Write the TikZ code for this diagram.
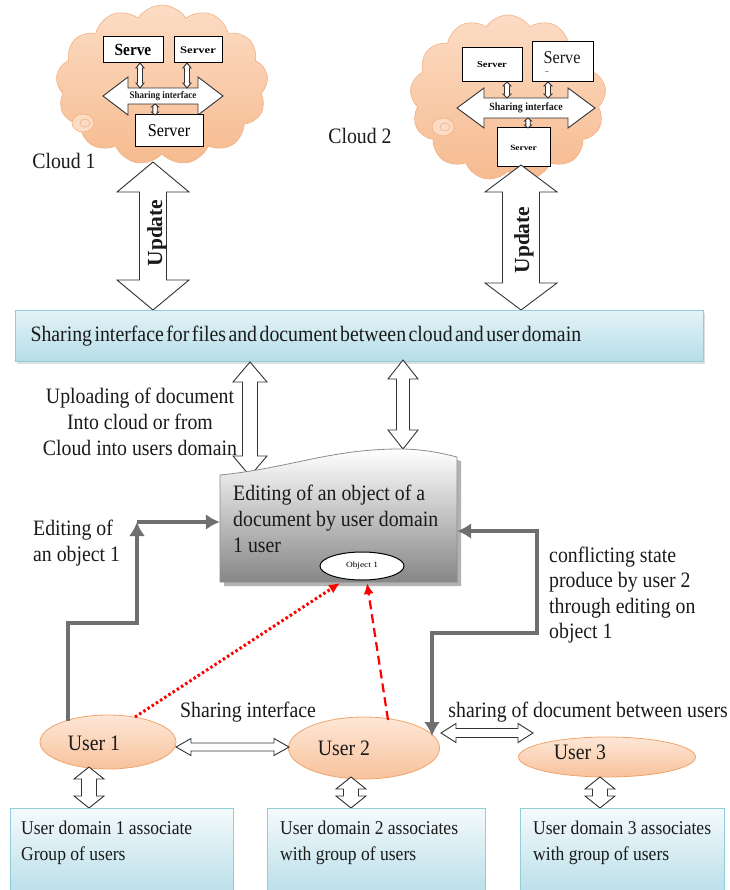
\documentclass[tikz,border=0pt]{standalone}
\usepackage{fontspec}
\setmainfont{Liberation Serif}[FakeStretch=0.9]
\newfontfamily\plainserif{Liberation Serif}
\usetikzlibrary{shapes.symbols,shapes.geometric,arrows.meta,shadows}
\definecolor{cloudtop}{HTML}{FCDCC4}
\definecolor{cloudbot}{HTML}{F6BB90}
\definecolor{cloudedge}{HTML}{F2B083}
\definecolor{usertop}{HTML}{FDE7D6}
\definecolor{userbot}{HTML}{F8C29C}
\definecolor{useredge}{HTML}{F0A46C}
\definecolor{bartop}{HTML}{E3F3F7}
\definecolor{barbot}{HTML}{B6DDE8}
\definecolor{baredge}{HTML}{92CDDC}
\definecolor{boxtop}{HTML}{F4FAFC}
\definecolor{arrgray}{HTML}{6F6F6F}
\definecolor{docgray}{HTML}{868686}
\definecolor{inkc}{HTML}{1A1A1A}
% vertical double block arrow: x, ytop, ybottom, head half width, shaft half width, head length
\newcommand{\vdblarrow}[6]{\draw[blockarr] (#1,#2) -- (#1+#4,#2+#6) -- (#1+#5,#2+#6) -- (#1+#5,#3-#6) -- (#1+#4,#3-#6) -- (#1,#3) -- (#1-#4,#3-#6) -- (#1-#5,#3-#6) -- (#1-#5,#2+#6) -- (#1-#4,#2+#6) -- cycle;}
% horizontal double block arrow: y, xleft, xright, head half height, shaft half height, head length
\newcommand{\hdblarrow}[6]{\draw[blockarr] (#2,#1) -- (#2+#6,#1-#4) -- (#2+#6,#1-#5) -- (#3-#6,#1-#5) -- (#3-#6,#1-#4) -- (#3,#1) -- (#3-#6,#1+#4) -- (#3-#6,#1+#5) -- (#2+#6,#1+#5) -- (#2+#6,#1+#4) -- cycle;}
\begin{document}
\begin{tikzpicture}[x=1pt,y=-1pt,
  font=\fontsize{22}{26}\selectfont,
  txt/.style={inner sep=0pt, text=inkc},
  srvbox/.style={draw=black, line width=1pt, fill=white, inner sep=0pt},
  blockarr/.style={draw=black!80, line width=0.9pt, fill=white, line join=miter},
  cloudnode/.style={cloud, cloud puffs=13, cloud puff arc=115, aspect=1.3, draw=cloudedge, line width=0.6pt, top color=cloudtop, bottom color=cloudbot, inner sep=0pt},
  userell/.style={ellipse, draw=useredge, line width=0.8pt, top color=usertop, bottom color=userbot, inner sep=0pt},
  domainbox/.style={rectangle, draw=baredge, line width=1pt, top color=boxtop, bottom color=barbot, inner sep=0pt, anchor=north west},
  grayarr/.style={draw=arrgray, line width=4.5pt, -{Latex[length=14pt,width=16pt]}},
  grayboth/.style={draw=arrgray, line width=4.5pt, {Latex[length=14pt,width=16pt]}-{Latex[length=14pt,width=16pt]}},
  reddots/.style={draw=red, line width=3pt, dash pattern=on 2.5pt off 2.5pt, -{Latex[length=11pt,width=10pt]}},
  reddash/.style={draw=red, line width=2.2pt, dash pattern=on 9pt off 5pt, -{Latex[length=11pt,width=10pt]}}
]
\useasboundingbox (0,0) rectangle (729,890);

% ---------- clouds ----------
\node[cloudnode, minimum width=212pt, minimum height=160pt] (cloudA) at (162,85) {};
\node[cloudnode, minimum width=196pt, minimum height=166pt] (cloudB) at (508,98) {};
\draw[cloudedge, fill=cloudtop, line width=0.6pt] (83,123) ellipse [x radius=11, y radius=9];
\draw[cloudedge, line width=0.6pt] (85,123) ellipse [x radius=5, y radius=4];
\draw[cloudedge, fill=cloudtop, line width=0.6pt] (443,127) ellipse [x radius=11, y radius=9];
\draw[cloudedge, line width=0.6pt] (445,127) ellipse [x radius=5, y radius=4];

% cloud 1 contents
\node[srvbox, minimum width=60pt, minimum height=26pt, font=\bfseries\fontsize{17}{17}\selectfont] (sA1) at (133,50) {Serve};
\node[srvbox, minimum width=48pt, minimum height=26pt, font=\bfseries\fontsize{10}{10}\selectfont] (sA2) at (198,50) {\scalebox{1.4}[1]{Server}};
\hdblarrow{96}{103}{223}{19}{8}{25}
\node[txt, font=\bfseries\fontsize{10}{10}\selectfont] (siA) at (163,96) {Sharing interface};
\node[srvbox, minimum width=68pt, minimum height=32pt, font=\fontsize{18}{18}\selectfont] (sA3) at (169,131) {Server};
\vdblarrow{140}{63}{88}{4}{2.5}{5}
\vdblarrow{187}{63}{88}{4}{2.5}{5}
\vdblarrow{155}{104}{115}{3.5}{2.2}{3}
\node[txt] (cl1) at (64,161) {Cloud 1};

% cloud 2 contents
\node[srvbox, minimum width=60pt, minimum height=34pt, font=\bfseries\fontsize{9}{9}\selectfont] (sB1) at (492,65) {\scalebox{1.3}[1]{Server}};
\node[srvbox, minimum width=61pt, minimum height=40pt] (sB2) at (562.5,62) {};
\node[txt, font=\fontsize{18}{18}\selectfont] (sB2t) at (562,58) {Serve};
\node[txt, font=\bfseries\fontsize{7}{7}\selectfont] (sB2d) at (547,73) {--};
\hdblarrow{108}{457}{595}{20}{10}{27}
\node[txt, font=\bfseries\fontsize{11}{11}\selectfont] (siB) at (526,108) {Sharing interface};
\node[srvbox, minimum width=53pt, minimum height=39pt, font=\bfseries\fontsize{8}{8}\selectfont] (sB3) at (523.5,147.5) {\scalebox{1.3}[1]{Server}};
\vdblarrow{507}{82}{98}{4}{2.5}{4}
\vdblarrow{548}{82}{98}{4}{2.5}{4}
\vdblarrow{528}{118}{128}{3.5}{2.2}{3}
\node[txt] (cl2) at (360,136) {Cloud 2};

% update arrows
\vdblarrow{153}{162}{310}{36}{13.5}{30}
\node[txt, rotate=90, font=\plainserif\bfseries\fontsize{21.5}{21.5}\selectfont] (upd1) at (157,233) {Update};
\vdblarrow{521}{165}{310}{36}{18.5}{27}
\node[txt, rotate=90, font=\plainserif\bfseries\fontsize{21.5}{21.5}\selectfont] (upd2) at (524,240) {Update};

% ---------- sharing bar ----------
\node[rectangle, draw=baredge, line width=1pt, top color=bartop, bottom color=barbot,
      drop shadow={opacity=0.25, shadow xshift=1.5pt, shadow yshift=-2pt},
      anchor=north west, minimum width=688pt, minimum height=51pt, text width=658pt,
      inner xsep=15pt, inner ysep=0pt, align=left, text=inkc] (bar) at (15,310)
      {\spaceskip=2.5pt plus 1pt Sharing interface for files and document between cloud and user domain};

\vdblarrow{250}{362}{476}{17}{7.5}{20}
\vdblarrow{403}{360}{449}{15}{6.5}{19}
\node[txt, anchor=north, align=center] (upl) at (140,388) {Uploading of document\\Into cloud or from\\Cloud into users domain};

% ---------- document ----------
\fill[black!30, shift={(4,4)}] (220,475) .. controls (290,468) and (330,449) .. (400,449) .. controls (425,449) and (445,454) .. (457,457) -- (457,582) -- (220,582) -- cycle;
\shade[top color=white, bottom color=docgray, draw=black!45, line width=0.8pt] (220,475) .. controls (290,468) and (330,449) .. (400,449) .. controls (425,449) and (445,454) .. (457,457) -- (457,582) -- (220,582) -- cycle;
\node[minimum width=237pt, minimum height=133pt, inner sep=0pt] (doc) at (338.5,515.5) {};
\node[txt, anchor=north west, align=left] (doctxt) at (233,485) {Editing of an object of a\\document by user domain\\1 user};
\node[ellipse, draw=black, line width=1pt, fill=white, minimum width=84pt, minimum height=28pt, inner sep=0pt, font=\fontsize{8}{8}\selectfont] (obj) at (362,566) {\scalebox{1.3}[1]{Object 1}};

% ---------- users ----------
\node[userell, minimum width=136pt, minimum height=54pt] (u1) at (108,742) {};
\node[txt] (u1t) at (94,743) {User 1};
\node[userell, minimum width=151pt, minimum height=62pt] (u2) at (364,748) {};
\node[txt] (u2t) at (344,748) {User 2};
\node[userell, minimum width=177pt, minimum height=40pt] (u3) at (607,757) {};
\node[txt] (u3t) at (580,752) {User 3};

\hdblarrow{747}{176}{289}{8.5}{4}{15}
\hdblarrow{733}{441}{533}{9.5}{4.5}{15}
\node[txt] (sil) at (248,712) {Sharing interface};
\node[txt, anchor=east] (sdl) at (728,712) {sharing of document between users};

% ---------- gray arrows ----------
\coordinate (c0) at (68,721);
\coordinate (c1) at (68,623);
\coordinate (c2) at (137,623);
\coordinate (c3) at (137,522);
\draw[grayarr] (c0) -- (c1) -- (c2) -- (c3);
\draw[grayarr] (c3) -- (c3 -| doc.west);
\coordinate (c4) at (537,531);
\coordinate (c5) at (537,633);
\coordinate (c6) at (432,633);
\coordinate (c7) at (432,736);
\draw[grayboth] (c4 -| doc.east) -- (c4) -- (c5) -- (c6) -- (c7);
\node[txt, anchor=north west, align=left] (edl) at (33,520) {Editing of\\an object 1};
\node[txt, anchor=north west, align=left, font=\fontsize{22}{25.3}\selectfont] (cfl) at (549,547) {conflicting state\\produce by user 2\\through editing on\\object 1};

% ---------- red arrows ----------
\coordinate (r0) at (135,717);
\coordinate (r1) at (340,583);
\draw[reddots] (r0) -- (r1);
\coordinate (r2) at (388,720);
\coordinate (r3) at (367,583);
\draw[reddash] (r2) -- (r3);

% ---------- domain boxes ----------
\vdblarrow{89}{767}{808}{15}{7.5}{12}
\vdblarrow{351}{777}{808}{15}{7.5}{12}
\vdblarrow{600}{777}{808}{15}{7.5}{12}
\node[domainbox, minimum width=223pt, minimum height=90pt] (d1) at (10,808) {};
\node[domainbox, minimum width=218pt, minimum height=90pt] (d2) at (267,808) {};
\node[domainbox, minimum width=204pt, minimum height=90pt] (d3) at (520,808) {};
\node[txt, anchor=north west, align=left, font=\fontsize{19.5}{26}\selectfont] (d1t) at (21,821) {User domain 1 associate\\Group of users};
\node[txt, anchor=north west, align=left, font=\fontsize{19.5}{26}\selectfont] (d2t) at (280,821) {User domain 2 associates\\with group of users};
\node[txt, anchor=north west, align=left, font=\fontsize{19.5}{26}\selectfont] (d3t) at (533,821) {User domain 3 associates\\with group of users};
\end{tikzpicture}
\end{document}
